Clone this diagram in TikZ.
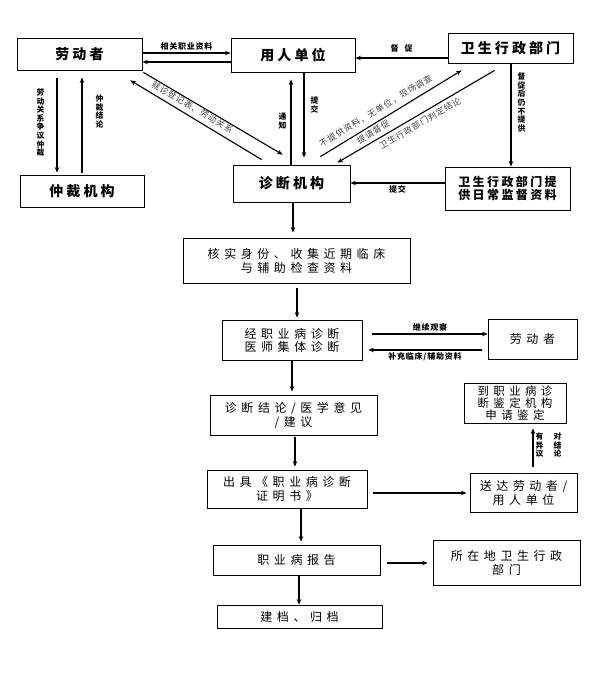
\documentclass[tikz,border=0pt]{standalone}
\usepackage{fontspec}
\setmainfont{Noto Sans CJK SC}
\newfontfamily\cjk{Noto Sans CJK SC}
\newfontfamily\cjktop[LetterSpace=22]{Noto Sans CJK SC}
\newfontfamily\cjkmid[LetterSpace=20]{Noto Sans CJK SC}
\newfontfamily\cjkbox[LetterSpace=38]{Noto Sans CJK SC}
\newfontfamily\cjklab[LetterSpace=10]{Noto Sans CJK SC}
\usetikzlibrary{arrows.meta,calc}
\begin{document}
\begin{tikzpicture}[x=1pt,y=-1pt,
  box/.style={draw, line width=0.8pt, inner sep=0pt, align=center},
  topbox/.style={box, font=\cjktop\bfseries\fontsize{14}{16}\selectfont},
  lowbox/.style={box, font=\cjkbox\fontsize{12}{14}\selectfont},
  arr/.style={line width=1.4pt, -{Stealth[length=5.5pt,width=4.5pt]}},
  rarr/.style={line width=1.4pt, {Stealth[length=5.5pt,width=4.5pt]}-},
  lab/.style={font=\cjklab\bfseries\fontsize{8}{9}\selectfont, inner sep=1pt},
  vlab/.style={font=\cjk\bfseries\fontsize{7.8}{8.6}\selectfont, inner sep=0pt, align=center},
  dlab/.style={font=\cjklab\fontsize{8.5}{9}\selectfont, text=black!75, inner sep=0.5pt, sloped},
]
\useasboundingbox[fill=white] (0,0) rectangle (594,682);

% boxes
\node[topbox, minimum width=125pt, minimum height=32pt] (lw) at (79.5,54) {劳动者};
\node[topbox, minimum width=124pt, minimum height=34pt] (yr) at (293,55) {用人单位};
\node[topbox, minimum width=125pt, minimum height=30pt] (ws) at (510.5,48) {卫生行政部门};
\node[topbox, minimum width=124pt, minimum height=32pt] (zc) at (82,191) {仲裁机构};
\node[topbox, minimum width=117pt, minimum height=37pt] (zd) at (291.5,183.5) {诊断机构};
\node[box, font=\cjkmid\bfseries\fontsize{12}{13.5}\selectfont, minimum width=125pt, minimum height=43pt] (tg) at (507.5,188.5) {卫生行政部门提\\供日常监督资料};
\node[lowbox, minimum width=227pt, minimum height=45pt] (hs) at (296.5,260.5) {核实身份、收集近期临床\\与辅助检查资料};
\node[lowbox, font=\cjkbox\fontsize{12}{13}\selectfont, minimum width=140pt, minimum height=40pt] (jz) at (292,340) {经职业病诊断\\医师集体诊断};
\node[lowbox, minimum width=89pt, minimum height=40pt] (lw2) at (532.5,339) {劳动者};
\node[lowbox, minimum width=167pt, minimum height=40pt] (jl) at (293.5,415) {诊断结论/医学意见\\/建议};
\node[lowbox, font=\cjkbox\fontsize{11.5}{12.3}\selectfont, minimum width=102pt, minimum height=40pt] (jd) at (515,403) {到职业病诊\\断鉴定机构\\申请鉴定};
\node[lowbox, minimum width=160pt, minimum height=38pt] (cj) at (287,489) {出具《职业病诊断\\证明书》};
\node[lowbox, minimum width=107pt, minimum height=39pt] (sd) at (523.5,492.5) {送达劳动者/\\用人单位};
\node[lowbox, minimum width=167pt, minimum height=30pt] (bg) at (296.5,560) {职业病报告};
\node[lowbox, minimum width=147pt, minimum height=45pt] (sz) at (506.5,562.5) {所在地卫生行政\\部门};
\node[lowbox, minimum width=165pt, minimum height=23pt] (jdg) at (299.5,616.5) {建档、归档};

% top section connectors
\draw[arr] ($(lw.east)+(0,-1)$) -- node[lab, above=1pt]{相关职业资料} ($(lw.east -| yr.west)+(0,-1)$);
\draw[arr] ($(lw.east -| yr.west)+(0,8)$) -- ($(lw.east)+(0,8)$);

\draw[arr] ($(lw.south)+(-22.5,8)$) -- node[vlab, pos=.47, left=12pt]{劳\\动\\关\\系\\争\\议\\仲\\裁} ($(zc.north)+(-25,-2)$);
\draw[arr] ($(zc.north)+(0,-2)$) -- node[vlab, pos=.64, right=13pt]{仲\\裁\\结\\论} ($(lw.south)+(2.5,7)$);

\draw[arr, line width=1.1pt] ($(lw.south east)+(1,2)$) -- node[dlab, pos=.37, below]{就诊登记表、劳动关系} ($(zd.north west)+(50,-10)$);
\draw[rarr, line width=1.1pt] ($(lw.south east)+(-12,10)$) -- ($(zd.north west)+(29,-5)$);

\draw[arr] ($(zd.north)+(-0.5,0)$) -- node[vlab, pos=.51, left=4pt]{通\\知} ($(yr.south)+(-2,7)$);
\draw[arr] ($(yr.south)+(11,0)$) -- node[vlab, pos=.38, right=6pt]{提\\交} ($(zd.north)+(12.5,-7)$);

\draw[arr] ($(ws.west)+(0,10)$) -- node[lab, above=4pt]{督\hspace{6pt}促} ($(ws.west -| yr.east)+(0,10)$);

\draw[arr, line width=1.1pt] ($(zd.north east)+(-30,-8)$) -- node[dlab, pos=.43, above=5pt]{不提供资料，无单位，现场调查} node[dlab, pos=.35, below=1.5pt]{提请督促} ($(ws.south west)+(14,7)$);
\draw[rarr, line width=1.1pt] ($(zd.north east)+(-13,-2)$) -- node[dlab, pos=.5, below=3pt]{卫生行政部门判定结论} ($(ws.south west)+(47,7)$);

\draw[arr] ($(ws.south)+(0.5,0)$) -- node[vlab, pos=.38, right=6pt]{督\\促\\后\\仍\\不\\提\\供} ($(tg.north)+(3.5,0)$);
\draw[arr] ($(tg.west)+(0,-5.5)$) -- node[lab, below=1pt]{提交} ($(tg.west -| zd.east)+(0,-5.5)$);

% main flow
\draw[arr] ($(zd.south)+(1.5,0)$) -- ($(zd.south |- hs.north)+(1.5,-5)$);
\draw[arr] ($(hs.south)+(0.5,5)$) -- ($(hs.south |- jz.north)+(0.5,-2)$);
\draw[arr] ($(jz.east)+(10,-6)$) -- node[lab, above=1pt]{继续观察} ($(jz.east -| lw2.west)+(0,-6)$);
\draw[arr] ($(jz.east -| lw2.west)+(-6,10)$) -- node[lab, below=1pt]{补充临床/辅助资料} ($(jz.east)+(6,10)$);
\draw[arr] (jz.south) -- ($(jz.south |- jl.north)+(0,-3)$);
\draw[arr] ($(jl.south)+(1.5,2)$) -- ($(jl.south |- cj.north)+(1.5,-3)$);
\draw[arr] ($(cj.east)+(6,4)$) -- ($(cj.east -| sd.west)+(-3,4)$);
\draw[arr] ($(sd.north)+(9.5,-6)$) -- node[vlab, pos=.56, right=2pt]{有\\异\\议} node[vlab, pos=.56, right=20pt]{对\\结\\论} ($(jd.south)+(18,5)$);
\draw[arr] ($(cj.south)+(14,0)$) -- ($(cj.south |- bg.north)+(14,-3)$);
\draw[arr] ($(bg.east)+(7,3)$) -- ($(bg.east -| sz.west)+(-5,3)$);
\draw[arr] ($(bg.south)+(2.5,0)$) -- ($(bg.south |- jdg.north)+(2.5,0)$);
\end{tikzpicture}
\end{document}
